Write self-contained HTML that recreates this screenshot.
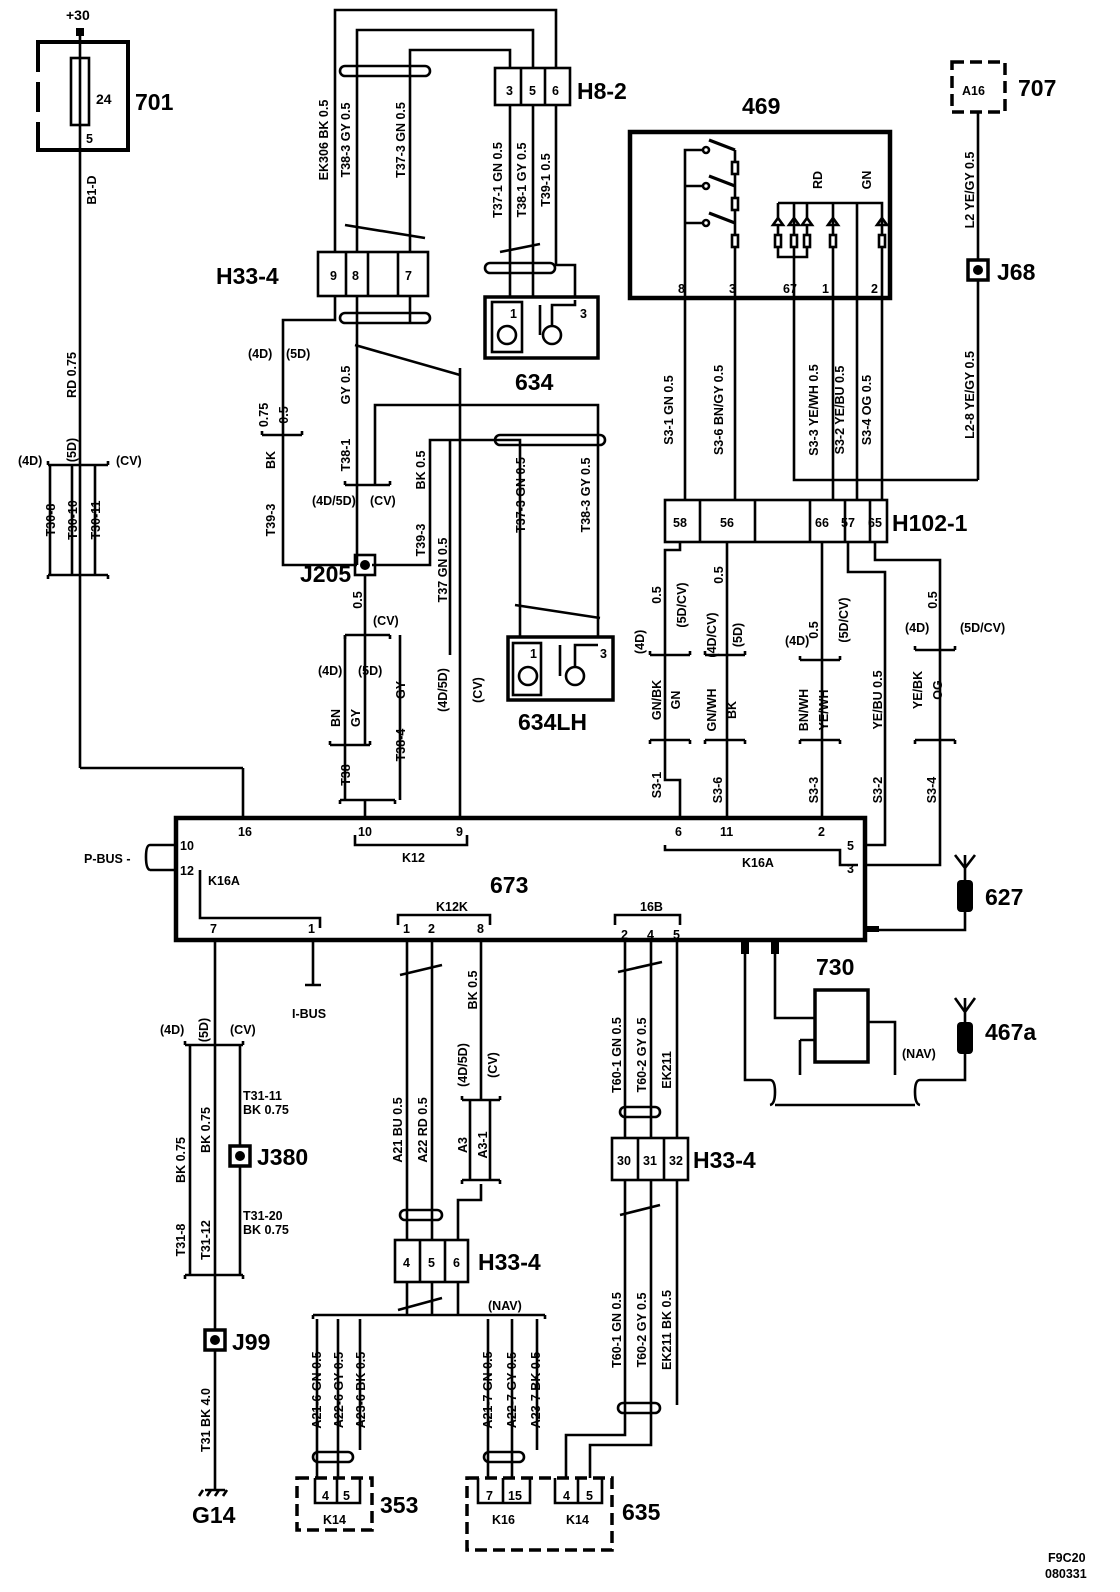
<!DOCTYPE html>
<html><head><meta charset="utf-8"><style>
html,body{margin:0;padding:0;background:#fff}
svg{display:block}
text{font-family:"Liberation Sans",sans-serif;font-weight:bold;fill:#000}
.s{font-size:12.5px}
.m{font-size:14px}
.b{font-size:23px}
</style></head><body>
<svg width="1120" height="1592" viewBox="0 0 1120 1592" xmlns="http://www.w3.org/2000/svg">
<g stroke="#000" stroke-width="2.6" fill="none">
<!-- 701 -->
<rect x="38" y="42" width="90" height="108" stroke-width="4"/>
<line x1="38" y1="72" x2="38" y2="82" stroke="#fff" stroke-width="6"/>
<line x1="38" y1="112" x2="38" y2="122" stroke="#fff" stroke-width="6"/>
<rect x="71" y="58" width="18" height="67"/>
<line x1="80" y1="36" x2="80" y2="768"/>
<line x1="80" y1="768" x2="243" y2="768"/><line x1="243" y1="768" x2="243" y2="818"/>
<path d="M48 465 H108 M48 465 v-4 M108 465 v-4 M48 575 H108 M48 575 v4 M108 575 v4"/>
<line x1="50" y1="465" x2="50" y2="575"/><line x1="72" y1="465" x2="72" y2="575"/><line x1="95" y1="465" x2="95" y2="575"/>
<!-- 673 -->
<rect x="176" y="818" width="689" height="122" stroke-width="4.5"/>
<path d="M200 870 V918 H320 V928"/>
<path d="M355 835 V845 H467 V835"/>
<path d="M665 845 V850 H840 V865 H858"/>
<path d="M398 925 V915 H490 V925"/>
<path d="M615 925 V915 H680 V925"/>
<path d="M150 845 H176 M150 870 H176 M150 845 q-4 0 -4 12 q0 12 4 13"/>
<!-- top loops -->
<path d="M335 252 V10 H556 V68"/>
<path d="M357 252 V30 H533 V68"/>
<path d="M410 252 V50 H510 V68"/>
<rect x="340" y="66" width="90" height="10" rx="5"/>
<line x1="345" y1="225" x2="425" y2="238"/>
<!-- H8-2 -->
<rect x="495" y="68" width="75" height="37"/>
<line x1="521" y1="68" x2="521" y2="105"/><line x1="545" y1="68" x2="545" y2="105"/>
<path d="M510 105 V297 M533 105 V297 M556 105 V265 H575 V297"/>
<rect x="485" y="263" width="70" height="10" rx="5"/>
<line x1="500" y1="252" x2="540" y2="244"/>
<!-- 634 -->
<rect x="485" y="297" width="113" height="61" stroke-width="3.5"/>
<rect x="492" y="302" width="30" height="50"/><circle cx="507" cy="335" r="9"/>
<circle cx="552" cy="335" r="9"/><path d="M540 305 V335 M552 326 V305 H575 V300"/>
<!-- H33-4 top -->
<rect x="318" y="252" width="110" height="44"/>
<line x1="346" y1="252" x2="346" y2="296"/><line x1="368" y1="252" x2="368" y2="296"/><line x1="398" y1="252" x2="398" y2="296"/>
<path d="M335 296 V320 H283 V565 H357"/>
<path d="M357 296 V565"/>
<path d="M410 296 V322"/>
<rect x="340" y="313" width="90" height="10" rx="5"/>
<line x1="355" y1="345" x2="460" y2="375"/>
<line x1="460" y1="368" x2="460" y2="818"/>
<path d="M262 435 H302 M262 435 v-4 M302 435 v-4"/>
<path d="M345 485 H390 M345 485 v-4 M390 485 v-4"/>
<path d="M375 485 V405 H598 V637"/>
<path d="M372 565 H430 V440 H520 V637"/>
<rect x="495" y="435" width="110" height="10" rx="5"/>
<line x1="450" y1="440" x2="450" y2="655"/>
<line x1="515" y1="605" x2="600" y2="618"/>
<!-- J205 -->
<rect x="355" y="555" width="20" height="20"/>
<path d="M365 575 V635 M345 635 H390 M345 635 v4 M390 635 v4"/>
<path d="M345 635 V800 M365 635 V745 M400 635 V800"/>
<path d="M330 745 H370 M330 745 v-4 M370 745 v-4"/>
<path d="M340 800 H395 M340 800 v4 M395 800 v4 M365 800 V818"/>
<!-- 634LH -->
<rect x="508" y="637" width="105" height="63" stroke-width="3.5"/>
<rect x="513" y="643" width="28" height="52"/><circle cx="528" cy="676" r="9"/>
<circle cx="575" cy="676" r="9"/><path d="M560 645 V676 M575 667 V645 H598"/>
<!-- 469 -->
<rect x="630" y="132" width="260" height="166" stroke-width="4.5"/>
<path d="M685 298 V150 H703 M685 186 H703 M685 223 H703"/>
<circle cx="706" cy="150" r="3"/><circle cx="706" cy="186" r="3"/><circle cx="706" cy="223" r="3"/>
<path d="M709 140 L735 150 M709 176 L735 186 M709 213 L735 223" stroke-width="3.2"/>
<path d="M735 150 V298"/>
<rect x="732" y="162" width="6" height="12" fill="#fff"/><rect x="732" y="198" width="6" height="12" fill="#fff"/><rect x="732" y="235" width="6" height="12" fill="#fff"/>
<path d="M778 203 H882 V298 M857 203 V298 M778 203 V218 M794 203 V298 M807 203 V218 M833 203 V298"/>
<path d="M778 225 V257 H807 V225"/>
<rect x="775" y="235" width="6" height="12" fill="#fff"/><rect x="791" y="235" width="6" height="12" fill="#fff"/><rect x="804" y="235" width="6" height="12" fill="#fff"/><rect x="830" y="235" width="6" height="12" fill="#fff"/><rect x="879" y="235" width="6" height="12" fill="#fff"/>
<path d="M773 225 h10 l-5 -7 z M789 225 h10 l-5 -7 z M802 225 h10 l-5 -7 z M828 225 h10 l-5 -7 z M877 225 h10 l-5 -7 z"/>
<!-- wires 469 -> H102-1 -->
<path d="M685 298 V500 M735 298 V500 M794 298 V480 H978 M833 298 V500 M857 298 V500 M882 298 V500"/>
<!-- H102-1 -->
<rect x="665" y="500" width="222" height="42"/>
<line x1="700" y1="500" x2="700" y2="542"/><line x1="755" y1="500" x2="755" y2="542"/><line x1="810" y1="500" x2="810" y2="542"/>
<line x1="845" y1="500" x2="845" y2="542"/><line x1="870" y1="500" x2="870" y2="542"/>
<path d="M680 542 V550 H665 V780 H680 V818"/>
<path d="M727 542 V818"/>
<path d="M822 542 V818"/>
<path d="M848 542 V572 H885 V845 H865"/>
<path d="M875 542 V560 H940 V865 H865"/>
<path d="M650 655 H690 M650 655 v-4 M690 655 v-4 M650 740 H690 M650 740 v4 M690 740 v4"/>
<path d="M705 655 H745 M705 655 v-4 M745 655 v-4 M705 740 H745 M705 740 v4 M745 740 v4"/>
<path d="M800 660 H840 M800 660 v-4 M840 660 v-4 M800 740 H840 M800 740 v4 M840 740 v4"/>
<path d="M915 650 H955 M915 650 v-4 M955 650 v-4 M915 740 H955 M915 740 v4 M955 740 v4"/>
<!-- 707 -->
<rect x="952" y="62" width="53" height="50" stroke-dasharray="12,6" stroke-width="3.5"/>
<path d="M978 112 V260 M978 280 V480"/>
<rect x="968" y="260" width="20" height="20" stroke-width="3.5"/>
<!-- 627 -->
<path d="M865 930 H965 V905"/>
<path d="M965 880 V855 M955 855 L965 868 L975 855"/>
<!-- 467a -->
<path d="M965 1050 V1080 H920"/>
<path d="M965 1025 V998 M955 998 L965 1012 L975 998"/>
<!-- 730 -->
<rect x="815" y="990" width="53" height="72" stroke-width="3.5"/>
<path d="M745 940 V1080 H770 M775 940 V1018 H815 M868 1022 H895 V1075 M800 1040 H815 M800 1040 V1075"/>
<path d="M770 1080 q5 0 5 12 q0 12 -5 13 M775 1105 H915 M920 1080 q-5 0 -5 12 q0 12 5 13"/>
<!-- bottom left -->
<path d="M215 940 V1045"/>
<path d="M185 1045 H243 M185 1045 v-4 M243 1045 v-4 M185 1275 H243 M185 1275 v4 M243 1275 v4"/>
<path d="M190 1045 V1275 M215 1045 V1275 M240 1045 V1146 M240 1166 V1275"/>
<path d="M215 1275 V1330 M215 1350 V1490"/>
<rect x="205" y="1330" width="20" height="20" stroke-width="3.5"/>
<path d="M205 1490 H225 M203 1490 l-4 6 M211 1490 l-4 6 M219 1490 l-4 6 M227 1490 l-4 6"/>
<path d="M313 940 V985 M305 985 H321"/>
<!-- K12K -->
<path d="M407 940 V1240 M432 940 V1240 M481 940 V1100"/>
<line x1="400" y1="975" x2="442" y2="965"/>
<path d="M462 1100 H500 M462 1100 v-4 M500 1100 v-4"/>
<path d="M470 1100 V1180 M490 1100 V1180 M462 1180 H500 M462 1180 v4 M500 1180 v4 M481 1184 V1200 H458 V1240"/>
<rect x="400" y="1210" width="42" height="10" rx="5"/>
<rect x="395" y="1240" width="73" height="42"/>
<line x1="420" y1="1240" x2="420" y2="1282"/><line x1="445" y1="1240" x2="445" y2="1282"/>
<path d="M407 1282 V1315 M432 1282 V1315 M458 1282 V1315"/>
<line x1="398" y1="1310" x2="442" y2="1298"/>
<path d="M313 1315 H545 M313 1315 v4 M545 1315 v4"/>
<path d="M317 1319 V1478 M338 1319 V1478 M360 1319 V1450"/>
<rect x="313" y="1452" width="40" height="10" rx="5"/>
<path d="M488 1319 V1478 M512 1319 V1478 M537 1319 V1450"/>
<rect x="484" y="1452" width="40" height="10" rx="5"/>
<rect x="297" y="1478" width="75" height="52" stroke-dasharray="12,6" stroke-width="3.5"/>
<path d="M315 1478 V1503 H360 V1478 M337 1478 V1503"/>
<rect x="467" y="1478" width="145" height="72" stroke-dasharray="12,6" stroke-width="3.5"/>
<path d="M478 1478 V1503 H530 V1478 M503 1478 V1503 M555 1478 V1503 H602 V1478 M578 1478 V1503"/>
<!-- 16B -->
<path d="M625 940 V1138 M651 940 V1138 M677 940 V1138"/>
<line x1="618" y1="972" x2="662" y2="962"/>
<rect x="620" y="1107" width="40" height="10" rx="5"/>
<rect x="612" y="1138" width="76" height="42"/>
<line x1="638" y1="1138" x2="638" y2="1180"/><line x1="664" y1="1138" x2="664" y2="1180"/>
<path d="M625 1180 V1435 H566 V1478 M651 1180 V1445 H590 V1478 M677 1180 V1405"/>
<rect x="618" y="1403" width="42" height="10" rx="5"/>
<line x1="620" y1="1215" x2="660" y2="1205"/>
</g>
<g fill="#000">
<rect x="76" y="28" width="8" height="8"/>
<circle cx="365" cy="565" r="5"/><circle cx="978" cy="270" r="5"/><circle cx="215" cy="1340" r="5"/><circle cx="240" cy="1156" r="5"/>
<rect x="230" y="1146" width="20" height="20" fill="none" stroke="#000" stroke-width="3.5"/>
<rect x="957" y="880" width="16" height="32" rx="4"/>
<rect x="957" y="1022" width="16" height="32" rx="4"/>
<rect x="741" y="940" width="8" height="14"/><rect x="771" y="940" width="8" height="14"/>
<rect x="865" y="926" width="14" height="6"/>
</g>
<!-- text -->
<text x="66" y="20" class="m">+30</text>
<text x="96" y="104" class="m">24</text>
<text x="86" y="143" class="s">5</text>
<text x="135" y="110" class="b">701</text>
<text x="742" y="114" class="b">469</text>
<text x="1018" y="96" class="b">707</text>
<text x="962" y="95" class="s">A16</text>
<text x="577" y="99" class="b">H8-2</text>
<text x="506" y="95" class="s">3</text><text x="529" y="95" class="s">5</text><text x="552" y="95" class="s">6</text>
<text x="216" y="284" class="b">H33-4</text>
<text x="330" y="280" class="s">9</text><text x="352" y="280" class="s">8</text><text x="405" y="280" class="s">7</text>
<text x="515" y="390" class="b">634</text>
<text x="510" y="318" class="s">1</text><text x="580" y="318" class="s">3</text>
<text x="518" y="730" class="b">634LH</text>
<text x="530" y="658" class="s">1</text><text x="600" y="658" class="s">3</text>
<text x="997" y="280" class="b">J68</text>
<text x="892" y="531" class="b">H102-1</text>
<text x="673" y="527" class="s">58</text><text x="720" y="527" class="s">56</text><text x="815" y="527" class="s">66</text><text x="841" y="527" class="s">57</text><text x="868" y="527" class="s">65</text>
<text x="678" y="293" class="s">8</text><text x="729" y="293" class="s">3</text><text x="783" y="293" class="s">67</text><text x="822" y="293" class="s">1</text><text x="871" y="293" class="s">2</text>
<text x="300" y="582" class="b">J205</text>
<text x="490" y="893" class="b">673</text>
<text x="238" y="836" class="s">16</text><text x="358" y="836" class="s">10</text><text x="456" y="836" class="s">9</text>
<text x="675" y="836" class="s">6</text><text x="720" y="836" class="s">11</text><text x="818" y="836" class="s">2</text>
<text x="847" y="850" class="s">5</text><text x="847" y="873" class="s">3</text>
<text x="180" y="850" class="s">10</text><text x="180" y="875" class="s">12</text>
<text x="208" y="885" class="s">K16A</text><text x="402" y="862" class="s">K12</text><text x="742" y="867" class="s">K16A</text>
<text x="84" y="863" class="s">P-BUS -</text>
<text x="436" y="911" class="s">K12K</text><text x="640" y="911" class="s">16B</text>
<text x="210" y="933" class="s">7</text><text x="308" y="933" class="s">1</text><text x="403" y="933" class="s">1</text><text x="428" y="933" class="s">2</text><text x="477" y="933" class="s">8</text>
<text x="621" y="939" class="s">2</text><text x="647" y="939" class="s">4</text><text x="673" y="939" class="s">5</text>
<text x="292" y="1018" class="s">I-BUS</text>
<text x="985" y="905" class="b">627</text>
<text x="816" y="975" class="b">730</text>
<text x="985" y="1040" class="b">467a</text>
<text x="902" y="1058" class="s">(NAV)</text>
<text x="257" y="1165" class="b">J380</text>
<text x="243" y="1100" class="s">T31-11</text><text x="243" y="1114" class="s">BK  0.75</text>
<text x="243" y="1220" class="s">T31-20</text><text x="243" y="1234" class="s">BK  0.75</text>
<text x="232" y="1350" class="b">J99</text>
<text x="192" y="1523" class="b">G14</text>
<text x="160" y="1034" class="s">(4D)</text><text x="230" y="1034" class="s">(CV)</text>
<text x="478" y="1270" class="b">H33-4</text>
<text x="403" y="1267" class="s">4</text><text x="428" y="1267" class="s">5</text><text x="453" y="1267" class="s">6</text>
<text x="693" y="1168" class="b">H33-4</text>
<text x="617" y="1165" class="s">30</text><text x="643" y="1165" class="s">31</text><text x="669" y="1165" class="s">32</text>
<text x="488" y="1310" class="s">(NAV)</text>
<text x="322" y="1500" class="s">4</text><text x="343" y="1500" class="s">5</text><text x="323" y="1524" class="s">K14</text>
<text x="380" y="1513" class="b">353</text>
<text x="486" y="1500" class="s">7</text><text x="508" y="1500" class="s">15</text><text x="492" y="1524" class="s">K16</text>
<text x="563" y="1500" class="s">4</text><text x="586" y="1500" class="s">5</text><text x="566" y="1524" class="s">K14</text>
<text x="622" y="1520" class="b">635</text>
<text x="1048" y="1562" class="s">F9C20</text><text x="1045" y="1578" class="s">080331</text>
<text x="18" y="465" class="s">(4D)</text><text x="116" y="465" class="s">(CV)</text>
<text x="248" y="358" class="s">(4D)</text><text x="286" y="358" class="s">(5D)</text>
<text x="312" y="505" class="s">(4D/5D)</text><text x="370" y="505" class="s">(CV)</text>
<text x="373" y="625" class="s">(CV)</text>
<text x="318" y="675" class="s">(4D)</text><text x="358" y="675" class="s">(5D)</text>
<text x="630" y="640" class="s" transform="rotate(-90 644 640)">(4D)</text>
<text x="905" y="632" class="s">(4D)</text><text x="960" y="632" class="s">(5D/CV)</text>
<text x="785" y="645" class="s">(4D)</text>
<!-- vertical labels -->
<g class="s" text-anchor="middle">
<text transform="rotate(-90 96 190)" x="96" y="190">B1-D</text>
<text transform="rotate(-90 76 375)" x="76" y="375">RD  0.75</text>
<text transform="rotate(-90 76 450)" x="76" y="450">(5D)</text>
<text transform="rotate(-90 55 520)" x="55" y="520">T30-8</text>
<text transform="rotate(-90 77 520)" x="77" y="520">T30-10</text>
<text transform="rotate(-90 100 520)" x="100" y="520">T30-11</text>
<text transform="rotate(-90 328 140)" x="328" y="140">EK306    BK   0.5</text>
<text transform="rotate(-90 350 140)" x="350" y="140">T38-3  GY  0.5</text>
<text transform="rotate(-90 405 140)" x="405" y="140">T37-3  GN   0.5</text>
<text transform="rotate(-90 502 180)" x="502" y="180">T37-1  GN  0.5</text>
<text transform="rotate(-90 526 180)" x="526" y="180">T38-1  GY  0.5</text>
<text transform="rotate(-90 550 180)" x="550" y="180">T39-1     0.5</text>
<text transform="rotate(-90 268 415)" x="268" y="415">0.75</text>
<text transform="rotate(-90 288 415)" x="288" y="415">0.5</text>
<text transform="rotate(-90 275 460)" x="275" y="460">BK</text>
<text transform="rotate(-90 275 520)" x="275" y="520">T39-3</text>
<text transform="rotate(-90 350 385)" x="350" y="385">GY  0.5</text>
<text transform="rotate(-90 350 455)" x="350" y="455">T38-1</text>
<text transform="rotate(-90 425 470)" x="425" y="470">BK   0.5</text>
<text transform="rotate(-90 425 540)" x="425" y="540">T39-3</text>
<text transform="rotate(-90 447 570)" x="447" y="570">T37  GN  0.5</text>
<text transform="rotate(-90 447 690)" x="447" y="690">(4D/5D)</text>
<text transform="rotate(-90 482 690)" x="482" y="690">(CV)</text>
<text transform="rotate(-90 525 495)" x="525" y="495">T37-3    GN   0.5</text>
<text transform="rotate(-90 590 495)" x="590" y="495">T38-3    GY   0.5</text>
<text transform="rotate(-90 362 600)" x="362" y="600">0.5</text>
<text transform="rotate(-90 340 718)" x="340" y="718">BN</text>
<text transform="rotate(-90 360 718)" x="360" y="718">GY</text>
<text transform="rotate(-90 405 690)" x="405" y="690">GY</text>
<text transform="rotate(-90 350 775)" x="350" y="775">T38</text>
<text transform="rotate(-90 405 745)" x="405" y="745">T38-4</text>
<text transform="rotate(-90 673 410)" x="673" y="410">S3-1    GN  0.5</text>
<text transform="rotate(-90 723 410)" x="723" y="410">S3-6    BN/GY   0.5</text>
<text transform="rotate(-90 818 410)" x="818" y="410">S3-3   YE/WH  0.5</text>
<text transform="rotate(-90 844 410)" x="844" y="410">S3-2   YE/BU  0.5</text>
<text transform="rotate(-90 871 410)" x="871" y="410">S3-4    OG   0.5</text>
<text transform="rotate(-90 974 190)" x="974" y="190">L2  YE/GY  0.5</text>
<text transform="rotate(-90 974 395)" x="974" y="395">L2-8      YE/GY  0.5</text>
<text transform="rotate(-90 661 595)" x="661" y="595">0.5</text>
<text transform="rotate(-90 686 605)" x="686" y="605">(5D/CV)</text>
<text transform="rotate(-90 661 700)" x="661" y="700">GN/BK</text>
<text transform="rotate(-90 680 700)" x="680" y="700">GN</text>
<text transform="rotate(-90 661 785)" x="661" y="785">S3-1</text>
<text transform="rotate(-90 723 575)" x="723" y="575">0.5</text>
<text transform="rotate(-90 716 635)" x="716" y="635">(4D/CV)</text>
<text transform="rotate(-90 742 635)" x="742" y="635">(5D)</text>
<text transform="rotate(-90 716 710)" x="716" y="710">GN/WH</text>
<text transform="rotate(-90 736 710)" x="736" y="710">BK</text>
<text transform="rotate(-90 722 790)" x="722" y="790">S3-6</text>
<text transform="rotate(-90 818 630)" x="818" y="630">0.5</text>
<text transform="rotate(-90 848 620)" x="848" y="620">(5D/CV)</text>
<text transform="rotate(-90 808 710)" x="808" y="710">BN/WH</text>
<text transform="rotate(-90 828 710)" x="828" y="710">YE/WH</text>
<text transform="rotate(-90 818 790)" x="818" y="790">S3-3</text>
<text transform="rotate(-90 882 700)" x="882" y="700">YE/BU     0.5</text>
<text transform="rotate(-90 882 790)" x="882" y="790">S3-2</text>
<text transform="rotate(-90 937 600)" x="937" y="600">0.5</text>
<text transform="rotate(-90 922 690)" x="922" y="690">YE/BK</text>
<text transform="rotate(-90 942 690)" x="942" y="690">OG</text>
<text transform="rotate(-90 936 790)" x="936" y="790">S3-4</text>
<text transform="rotate(-90 208 1030)" x="208" y="1030">(5D)</text>
<text transform="rotate(-90 185 1160)" x="185" y="1160">BK  0.75</text>
<text transform="rotate(-90 185 1240)" x="185" y="1240">T31-8</text>
<text transform="rotate(-90 210 1130)" x="210" y="1130">BK  0.75</text>
<text transform="rotate(-90 210 1240)" x="210" y="1240">T31-12</text>
<text transform="rotate(-90 210 1420)" x="210" y="1420">T31   BK  4.0</text>
<text transform="rotate(-90 402 1130)" x="402" y="1130">A21  BU  0.5</text>
<text transform="rotate(-90 427 1130)" x="427" y="1130">A22  RD  0.5</text>
<text transform="rotate(-90 477 990)" x="477" y="990">BK   0.5</text>
<text transform="rotate(-90 467 1065)" x="467" y="1065">(4D/5D)</text>
<text transform="rotate(-90 497 1065)" x="497" y="1065">(CV)</text>
<text transform="rotate(-90 467 1145)" x="467" y="1145">A3</text>
<text transform="rotate(-90 487 1145)" x="487" y="1145">A3-1</text>
<text transform="rotate(-90 621 1055)" x="621" y="1055">T60-1  GN  0.5</text>
<text transform="rotate(-90 646 1055)" x="646" y="1055">T60-2  GY  0.5</text>
<text transform="rotate(-90 671 1070)" x="671" y="1070">EK211</text>
<text transform="rotate(-90 621 1330)" x="621" y="1330">T60-1  GN  0.5</text>
<text transform="rotate(-90 646 1330)" x="646" y="1330">T60-2  GY  0.5</text>
<text transform="rotate(-90 671 1330)" x="671" y="1330">EK211  BK  0.5</text>
<text transform="rotate(-90 321 1390)" x="321" y="1390">A21-6   GN  0.5</text>
<text transform="rotate(-90 343 1390)" x="343" y="1390">A22-6   GY  0.5</text>
<text transform="rotate(-90 365 1390)" x="365" y="1390">A23-6   BK  0.5</text>
<text transform="rotate(-90 492 1390)" x="492" y="1390">A21-7   GN  0.5</text>
<text transform="rotate(-90 516 1390)" x="516" y="1390">A22-7   GY  0.5</text>
<text transform="rotate(-90 540 1390)" x="540" y="1390">A23-7   BK  0.5</text>
<text transform="rotate(-90 822 180)" x="822" y="180">RD</text>
<text transform="rotate(-90 871 180)" x="871" y="180">GN</text>
</g>
</svg>
</body></html>
